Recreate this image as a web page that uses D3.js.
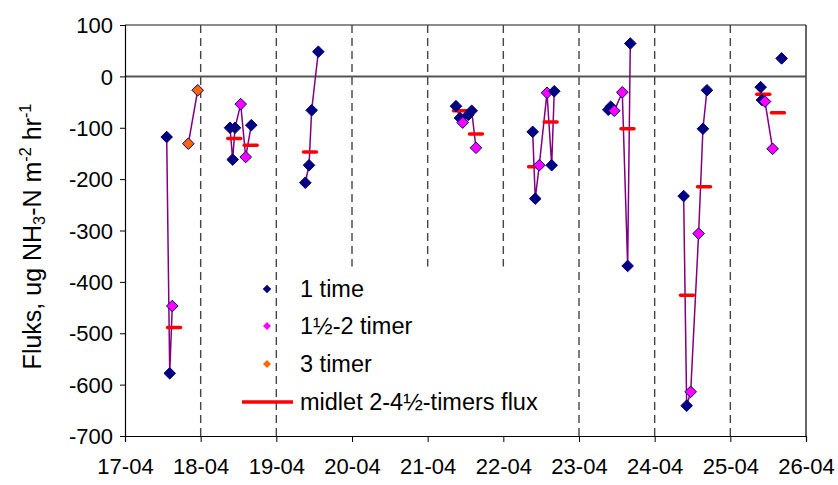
<!DOCTYPE html>
<html>
<head>
<meta charset="utf-8">
<script src="https://cdn.jsdelivr.net/npm/d3@7"></script>
<style>
  html, body { margin: 0; padding: 0; background: #fff; }
  svg { display: block; font-family: "Liberation Sans", Arial, sans-serif; }
</style>
</head>
<body>
<svg id="chart" width="838" height="485"></svg>
<script>
// Day labels on the x axis (day 0 = 17-04)
const dayLabels = ["17-04", "18-04", "19-04", "20-04", "21-04", "22-04", "23-04", "24-04", "25-04", "26-04"];
const yTicks = [100, 0, -100, -200, -300, -400, -500, -600, -700];

// Flux measurements: t = days after 17-04, v = flux, k = chamber duration class
// k: 1 = "1 time", 2 = "1½-2 timer", 3 = "3 timer"
// Points within one series are joined by a line in time order.
const series17a = [
  { t: 0.551, v: -118, k: 1 }, { t: 0.591, v: -578, k: 1 }, { t: 0.625, v: -447, k: 2 }
];
const series17b = [
  { t: 0.837, v: -131, k: 3 }, { t: 0.961, v: -27, k: 3 }
];
const series18 = [
  { t: 1.388, v: -100, k: 1 }, { t: 1.423, v: -162, k: 1 }, { t: 1.454, v: -100, k: 1 },
  { t: 1.529, v: -54, k: 2 }, { t: 1.595, v: -157, k: 2 }, { t: 1.669, v: -95, k: 1 }
];
const series19 = [
  { t: 2.383, v: -207, k: 1 }, { t: 2.432, v: -173, k: 1 }, { t: 2.467, v: -66, k: 1 }, { t: 2.555, v: 48, k: 1 }
];
const series21 = [
  { t: 4.374, v: -58, k: 1 }, { t: 4.427, v: -81, k: 1 }, { t: 4.463, v: -90, k: 2 },
  { t: 4.537, v: -75, k: 1 }, { t: 4.582, v: -67, k: 1 }, { t: 4.638, v: -139, k: 2 }
];
const series22 = [
  { t: 5.388, v: -108, k: 1 }, { t: 5.422, v: -238, k: 1 }, { t: 5.475, v: -173, k: 2 },
  { t: 5.577, v: -32, k: 2 }, { t: 5.639, v: -173, k: 1 }, { t: 5.673, v: -29, k: 1 }
];
const series23 = [
  { t: 6.387, v: -65, k: 1 }, { t: 6.419, v: -59, k: 1 }, { t: 6.466, v: -67, k: 2 },
  { t: 6.572, v: -31, k: 2 }, { t: 6.643, v: -369, k: 1 }, { t: 6.678, v: 64, k: 1 }
];
const series24 = [
  { t: 7.383, v: -233, k: 1 }, { t: 7.423, v: -641, k: 1 }, { t: 7.476, v: -614, k: 2 },
  { t: 7.581, v: -306, k: 2 }, { t: 7.638, v: -102, k: 1 }, { t: 7.691, v: -27, k: 1 }
];
const series25a = [
  { t: 8.401, v: -21, k: 1 }, { t: 8.418, v: -46, k: 1 }, { t: 8.458, v: -49, k: 2 }, { t: 8.559, v: -141, k: 2 }
];
const series25b = [
  { t: 8.678, v: 35, k: 1 }
];
const allSeries = [series17a, series17b, series18, series19, series21, series22, series23, series24, series25a, series25b];

// Mean flux over 2–4½ hours
const meanFlux = [
  { t: 0.648, v: -489 }, { t: 1.444, v: -121 }, { t: 1.661, v: -134 }, { t: 2.445, v: -147 },
  { t: 4.427, v: -67 }, { t: 4.638, v: -112 }, { t: 5.420, v: -176 }, { t: 5.625, v: -89 },
  { t: 6.641, v: -102 }, { t: 7.427, v: -426 }, { t: 7.652, v: -215 }, { t: 8.435, v: -35 }, { t: 8.629, v: -71 }
];

// Day separators: day index and lower end of the dashed line
const separators = [
  { d: 1, end: -700 }, { d: 2, end: -700 }, { d: 3, end: -370 }, { d: 4, end: -370 },
  { d: 5, end: -370 }, { d: 6, end: -700 }, { d: 7, end: -700 }, { d: 8, end: -700 }
];

const legendItems = [
  { label: "1 time", k: 1 },
  { label: "1½-2 timer", k: 2 },
  { label: "3 timer", k: 3 },
  { label: "midlet 2-4½-timers flux", k: 0 }
];

const fillByKind = { 1: "#000080", 2: "#FF00FF", 3: "#FF6600" };

const svg = d3.select("#chart");
const margin = { left: 125, right: 32, top: 25, bottom: 49 };
const W = 838, H = 485;

const x = d3.scaleLinear().domain([0, 9]).range([margin.left, W - margin.right]);
const y = d3.scaleLinear().domain([-700, 100]).range([H - margin.bottom, margin.top]);

const tickFont = 22;
const legendFont = 23.5;
const titleFont = 25;

// plot frame (top and right)
svg.append("line").attr("x1", x(0)).attr("x2", x(9)).attr("y1", y(100)).attr("y2", y(100))
  .attr("stroke", "#666").attr("stroke-width", 1.5);
svg.append("line").attr("x1", x(9)).attr("x2", x(9)).attr("y1", y(100)).attr("y2", y(-700))
  .attr("stroke", "#333").attr("stroke-width", 1.5);

// day separators
svg.append("g").selectAll("line").data(separators).join("line")
  .attr("x1", d => x(d.d)).attr("x2", d => x(d.d))
  .attr("y1", y(100)).attr("y2", d => y(d.end))
  .attr("stroke", "#444").attr("stroke-width", 1.4)
  .attr("stroke-dasharray", "8,5");

// zero line
svg.append("line").attr("x1", x(0)).attr("x2", x(9)).attr("y1", y(0)).attr("y2", y(0))
  .attr("stroke", "#555").attr("stroke-width", 2);

// axes
const yAxis = d3.axisLeft(y).tickValues(yTicks).tickSize(5).tickFormat(d => String(d));
const gy = svg.append("g").attr("transform", `translate(${x(0)},0)`).call(yAxis);
gy.select(".domain").attr("stroke", "#000").attr("stroke-width", 1.2);
gy.selectAll(".tick line").attr("stroke", "#000");
gy.selectAll(".tick text").attr("font-size", tickFont).attr("font-family", "Liberation Sans, Arial, sans-serif")
  .attr("fill", "#000").attr("x", -12).attr("dy", "0.35em");

const xAxis = d3.axisBottom(x).tickValues(d3.range(dayLabels.length)).tickSize(6)
  .tickFormat(i => dayLabels[i]);
const gx = svg.append("g").attr("transform", `translate(0,${y(-700)})`).call(xAxis);
gx.select(".domain").attr("stroke", "#000").attr("stroke-width", 1.2);
gx.selectAll(".tick line").attr("stroke", "#000");
gx.selectAll(".tick text").attr("font-size", tickFont).attr("font-family", "Liberation Sans, Arial, sans-serif")
  .attr("fill", "#000").attr("y", 22).attr("dy", "0.71em");

// y axis title
const title = svg.append("text")
  .attr("transform", `translate(41,${(y(100) + y(-700)) / 2 + 6}) rotate(-90)`)
  .attr("text-anchor", "middle").attr("font-size", titleFont).attr("fill", "#000");
title.append("tspan").text("Fluks, ug NH");
title.append("tspan").attr("font-size", titleFont * 0.65).attr("dy", 4).text("3");
title.append("tspan").attr("dy", -4).text("-N m");
title.append("tspan").attr("font-size", titleFont * 0.65).attr("dy", -10).text("-2");
title.append("tspan").attr("dy", 10).text(" hr");
title.append("tspan").attr("font-size", titleFont * 0.65).attr("dy", -10).text("-1");

// connecting lines
const line = d3.line().x(d => x(d.t)).y(d => y(d.v));
svg.append("g").selectAll("path").data(allSeries.filter(s => s.length > 1)).join("path")
  .attr("d", line).attr("fill", "none").attr("stroke", "#800080").attr("stroke-width", 1.5);

// mean flux dashes
svg.append("g").selectAll("line").data(meanFlux).join("line")
  .attr("x1", d => x(d.t) - 6.5).attr("x2", d => x(d.t) + 6.5)
  .attr("y1", d => y(d.v)).attr("y2", d => y(d.v))
  .attr("stroke", "#FF0000").attr("stroke-width", 3.5).attr("stroke-linecap", "round");

// diamond markers
const diamond = (cx, cy, r) => `M${cx},${cy - r}L${cx + r},${cy}L${cx},${cy + r}L${cx - r},${cy}Z`;
const points = allSeries.flat();
svg.append("g").selectAll("path").data(points).join("path")
  .attr("d", d => diamond(x(d.t), y(d.v), 5.8))
  .attr("fill", d => fillByKind[d.k])
  .attr("stroke", "#000080").attr("stroke-width", 1);

// legend
const lg = svg.append("g");
const rowY = [289, 326, 364, 402];
legendItems.forEach((item, i) => {
  const yy = rowY[i];
  if (item.k > 0) {
    lg.append("path").attr("d", diamond(267, yy, 4)).attr("fill", fillByKind[item.k])
      .attr("stroke", item.k === 1 ? "#000080" : "none").attr("stroke-width", 0.5);
  } else {
    lg.append("line").attr("x1", 242).attr("x2", 293).attr("y1", yy).attr("y2", yy)
      .attr("stroke", "#FF0000").attr("stroke-width", 3.5);
  }
  lg.append("text").attr("x", 300).attr("y", yy).attr("dy", "0.35em")
    .attr("font-size", legendFont).attr("fill", "#000").text(item.label);
});
</script>
</body>
</html>
